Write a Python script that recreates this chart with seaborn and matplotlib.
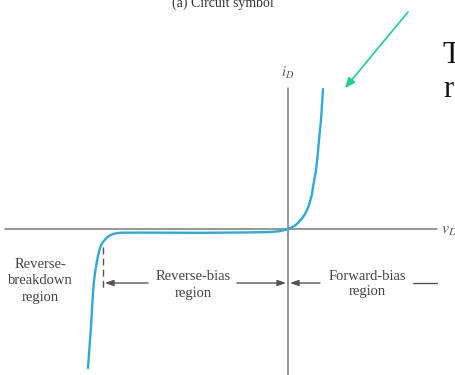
import matplotlib
matplotlib.use("Agg")
import matplotlib.pyplot as plt
import seaborn as sns
import pandas as pd

# Diode i-v characteristic, origin at the axis crossing
v_d = [-200, -198.5, -197, -196, -195, -194, -193, -192, -191, -190, -189, -188, -186.5, -185, -183,
       -181, -179, -177, -175, -172, -169, -166,
       -150, -120, -88, -60, -38, -18, -10, -5, 0,
       3, 7, 11, 14, 17, 19, 21, 22.5, 24, 25, 26.5, 28, 29.5, 31, 32, 33, 34, 35]
i_d = [-139, -118, -98, -80, -64, -52, -44, -38, -32, -27, -22.5, -19, -15.5, -13, -10.5,
       -8.5, -7, -5.8, -5, -4.3, -3.9, -3.7,
       -3.6, -3.7, -3.8, -3.6, -3.4, -3, -2.3, -1.4, 0,
       1.3, 3.5, 7, 10.5, 15, 19, 24, 29, 35, 42, 50, 59, 72, 89, 99, 109, 124, 140]

title_text = "(a) Circuit symbol"
region_labels = ["Reverse-\nbreakdown\nregion", "Reverse-bias\nregion", "Forward-bias\nregion"]
region_x = [-248, -95, 79]
region_y = [-52, -56, -55]

sns.set_style("white")
plt.rcParams["mathtext.fontset"] = "stix"
plt.rcParams["font.family"] = ["Liberation Serif", "DejaVu Serif"]

fig = plt.figure(figsize=(4.56, 3.75), dpi=100)
ax = fig.add_axes([0, 0, 1, 1])
ax.set_xlim(-288, 168)
ax.set_ylim(-146, 229)
ax.axis("off")

axis_col = "#7a7a7a"
ax.plot([-283, 149], [0, 0], color=axis_col, lw=1.1, zorder=1)
ax.plot([0, 0], [-146, 141], color=axis_col, lw=1.1, zorder=1)
ax.text(0, 156, "$i_D$", ha="center", va="center", fontsize=10.5, color="#555555")
ax.text(153, -1, "$v_D$", ha="left", va="center", fontsize=11.5, color="#555555")

curve = pd.DataFrame({"v": v_d, "i": i_d})
sns.lineplot(data=curve, x="v", y="i", sort=False, color="#2ea9de", lw=1.7, ax=ax, zorder=3)

# breakdown marker
ax.plot([-185, -185], [-18, -59], color="#555555", lw=1.0, ls=(0, (5, 3)), zorder=2)

arrow_y = -54
ap = dict(arrowstyle="-|>,head_length=0.5,head_width=0.18", color="#555555", lw=1.0,
          shrinkA=0, shrinkB=0)
ax.annotate("", xy=(-183, arrow_y), xytext=(-140, arrow_y), arrowprops=ap)
ax.annotate("", xy=(-2, arrow_y), xytext=(-51, arrow_y), arrowprops=ap)
ax.annotate("", xy=(2, arrow_y), xytext=(32, arrow_y), arrowprops=ap)
ax.plot([125, 149], [arrow_y, arrow_y], color="#555555", lw=1.0)

for lab, x, y in zip(region_labels, region_x, region_y):
    ax.text(x, y, lab, ha="center", va="center", fontsize=10.5, color="#444444",
            linespacing=1.3)

ax.text(-65, 226, title_text, ha="center", va="center", fontsize=10, color="#333333")

# pointer and side text
ax.annotate("", xy=(57, 141), xytext=(120, 217),
            arrowprops=dict(arrowstyle="-|>,head_length=0.6,head_width=0.25",
                            color="#1ccf98", lw=1.2, shrinkA=0, shrinkB=0))
ax.text(155, 166, "T", ha="left", va="baseline", fontsize=22, color="#111111")
ax.text(155, 132, "r", ha="left", va="baseline", fontsize=22, color="#111111")

fig.savefig("out.png", dpi=100)
